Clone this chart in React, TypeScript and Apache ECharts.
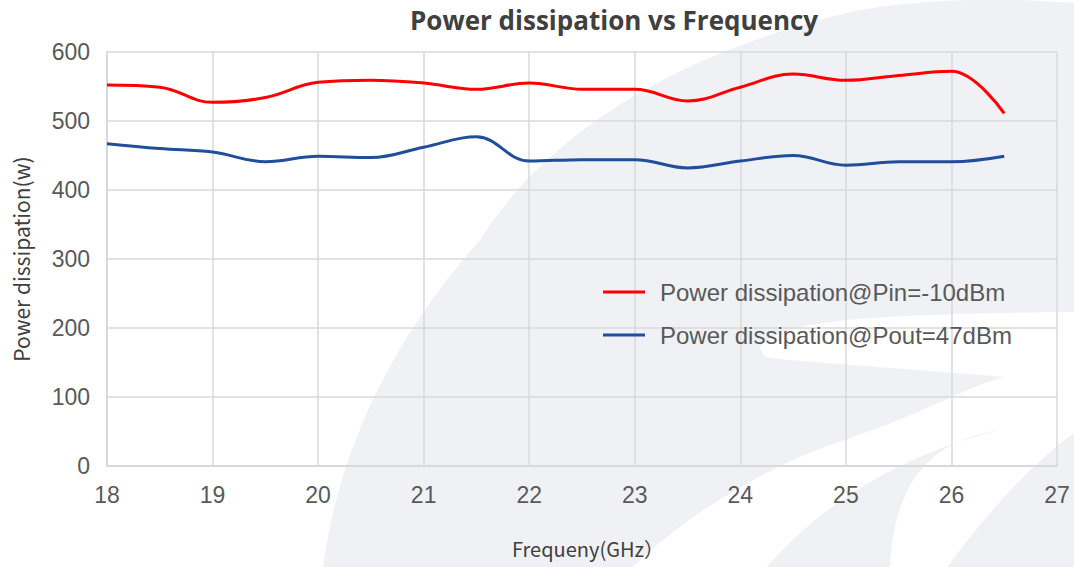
import React, { useEffect, useRef } from "react";
import * as echarts from "echarts";

// ---- data ----
const frequencies = [18, 18.5, 19, 19.5, 20, 20.5, 21, 21.5, 22, 22.5, 23, 23.5, 24, 24.5, 25, 25.5, 26, 26.5];
const pinMinus10 = [552, 549, 527, 534, 556, 559, 555, 546, 555, 546, 546, 529, 549, 568, 559, 566, 572, 511];
const pout47 = [467, 460, 455, 441, 449, 447, 462, 477, 442, 444, 444, 432, 442, 450, 436, 441, 441, 449];
const seriesNames = ["Power dissipation@Pin=-10dBm", "Power dissipation@Pout=47dBm"];
const titleText = "Power dissipation vs Frequency";
const xName = "Frequeny(GHz）";
const yName = "Power dissipation(w)";

// ---- watermark shapes ----
const WM_GREY = "M 323 567 C 340 440, 400 330, 480 240 C 530 160, 640 60, 860 10 C 950 -5, 1030 0, 1074 3 L 1074 567 Z";
const WM_SWOOSH = "M 760 348 C 775 322, 850 314, 1074 312 L 1074 372 C 1040 374, 1020 376, 1005 377 C 900 368, 800 362, 765 357 Z";
const WM_WHITE = "M 633 567 C 690 510, 780 460, 850 438 C 920 415, 970 385, 1005 377 C 1030 372, 1060 370, 1074 370 L 1074 567 Z";
const WM_STRIPE1 = "M 767 567 C 820 505, 900 455, 1000 430 C 940 440, 895 470, 890 567 Z";
const WM_STRIPE2 = "M 947 567 C 990 510, 1030 465, 1074 433 L 1074 567 Z";

let registered = false;
function registerShapes() {
  if (registered) return;
  registered = true;
  echarts.graphic.registerShape("wmGrey", echarts.graphic.extendPath(WM_GREY, {}));
  echarts.graphic.registerShape("wmSwoosh", echarts.graphic.extendPath(WM_SWOOSH, {}));
  echarts.graphic.registerShape("wmWhite", echarts.graphic.extendPath(WM_WHITE, {}));
  echarts.graphic.registerShape("wmStripe1", echarts.graphic.extendPath(WM_STRIPE1, {}));
  echarts.graphic.registerShape("wmStripe2", echarts.graphic.extendPath(WM_STRIPE2, {}));
}

export default function App() {
  const ref = useRef<HTMLDivElement>(null);

  useEffect(() => {
    if (!ref.current) return;
    registerShapes();
    const chart = echarts.init(ref.current, undefined, { renderer: "svg" });
    const grey = "#f0f1f5";
    const labelColor = "#595959";
    const gridColor = "#d9d9d9";
    chart.setOption({
      animation: false,
      backgroundColor: "#ffffff",
      title: {
        text: titleText,
        left: 405,
        top: 2,
        textStyle: {
          fontFamily: "Open Sans",
          fontWeight: "bold",
          fontSize: 26,
          color: "#404040",
        },
      },
      graphic: [
        { type: "wmGrey", x: 0, y: 0, z: -10, silent: true, style: { fill: grey } },
        { type: "wmSwoosh", x: 0, y: 0, z: -9, silent: true, style: { fill: "#ffffff" } },
        { type: "wmWhite", x: 0, y: 0, z: -9, silent: true, style: { fill: "#ffffff" } },
        { type: "wmStripe1", x: 0, y: 0, z: -8, silent: true, style: { fill: grey } },
        { type: "wmStripe2", x: 0, y: 0, z: -8, silent: true, style: { fill: grey } },
      ],
      grid: { left: 107, right: 17, top: 52, bottom: 101, containLabel: false },
      legend: {
        orient: "vertical",
        left: 598,
        top: 275,
        itemWidth: 42,
        itemHeight: 3,
        itemGap: 19,
        icon: "rect",
        data: seriesNames,
        textStyle: {
          fontFamily: "Liberation Sans",
          fontSize: 24,
          color: labelColor,
          padding: [0, 0, 0, 10],
          lineHeight: 24,
        },
      },
      xAxis: {
        type: "value",
        min: 18,
        max: 27,
        interval: 1,
        name: xName,
        nameLocation: "middle",
        nameGap: 72,
        nameTextStyle: { fontFamily: "Noto Sans CJK SC", fontSize: 20, color: "#404040", padding: [0, 0, 0, 12] },
        axisLine: { lineStyle: { color: gridColor, width: 2 } },
        axisTick: { show: false },
        axisLabel: { fontFamily: "Liberation Sans", fontSize: 23, color: labelColor, margin: 17 },
        splitLine: { show: true, lineStyle: { color: gridColor, width: 1.5 } },
      },
      yAxis: {
        type: "value",
        min: 0,
        max: 600,
        interval: 100,
        name: yName,
        nameLocation: "middle",
        nameGap: 76,
        nameRotate: 90,
        nameTextStyle: { fontFamily: "Noto Sans CJK SC", fontSize: 21, color: "#404040" },
        axisLine: { show: true, lineStyle: { color: gridColor, width: 2 } },
        axisTick: { show: false },
        axisLabel: { fontFamily: "Liberation Sans", fontSize: 23, color: labelColor, margin: 17 },
        splitLine: { show: true, lineStyle: { color: gridColor, width: 1.5 } },
      },
      series: [
        {
          name: seriesNames[0],
          type: "line",
          smooth: 0.4,
          showSymbol: false,
          data: frequencies.map((f, i) => [f, pinMinus10[i]]),
          lineStyle: { color: "#ff0000", width: 3 },
          itemStyle: { color: "#ff0000" },
        },
        {
          name: seriesNames[1],
          type: "line",
          smooth: 0.4,
          showSymbol: false,
          data: frequencies.map((f, i) => [f, pout47[i]]),
          lineStyle: { color: "#1f4e9a", width: 3 },
          itemStyle: { color: "#1f4e9a" },
        },
      ],
    });
    return () => chart.dispose();
  }, []);

  return (
    <div
      ref={ref}
      style={{ position: "fixed", left: 0, top: 0, width: 1074, height: 567 }}
    />
  );
}
